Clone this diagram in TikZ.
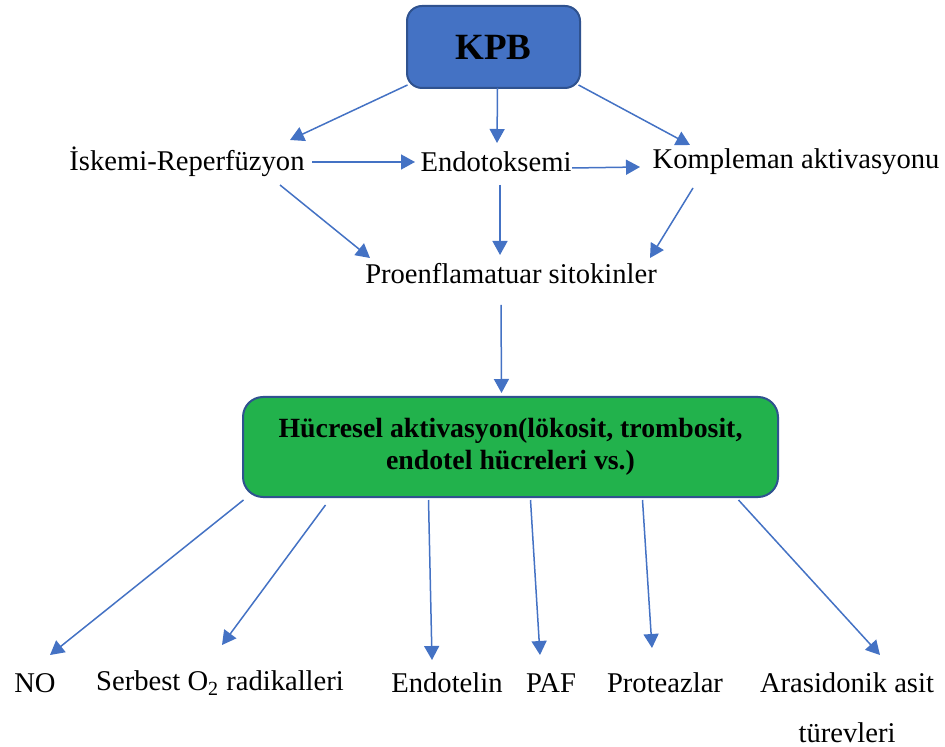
\documentclass[tikz,border=0pt]{standalone}
\usepackage{fontspec}
\setmainfont{Liberation Serif}
\usetikzlibrary{arrows.meta,calc}
\definecolor{kmavi}{HTML}{4472C4}
\definecolor{kcerceve}{HTML}{2F528F}
\definecolor{kyesil}{HTML}{22B24C}
\tikzset{
  kutum/.style={rectangle, rounded corners=7.5pt, draw=kcerceve, line width=1pt, fill=kmavi,
    minimum width=86.5pt, minimum height=41pt, font=\fontsize{18.5}{22}\selectfont\bfseries},
  kutuy/.style={rectangle, rounded corners=10pt, draw=kcerceve, line width=1pt, fill=kyesil,
    minimum width=267.5pt, minimum height=50pt, align=center, font=\fontsize{13.9}{15.8}\selectfont\bfseries},
  yazi/.style={inner sep=1pt, align=center, font=\fontsize{14.3}{25}\selectfont},
  ok/.style={-{Triangle[length=7pt,width=7.5pt]}, line width=0.75pt, draw=kmavi, fill=kmavi},
}
\begin{document}
\begin{tikzpicture}[x=0.5pt,y=-0.5pt]
  \useasboundingbox (0,0) rectangle (945,747);
  \node[kutum] (kpb) at (493.5,47) {KPB};
  \node[yazi] (isk) at (187,162) {İskemi-Reperfüzyon};
  \node[yazi] (endo) at (496,162) {Endotoksemi};
  \node[yazi] (komp) at (796,162) {Kompleman aktivasyonu};
  \node[yazi] (proenf) at (511,274) {Proenflamatuar sitokinler};
  \node[kutuy] (hucre) at (510.5,447) {Hücresel aktivasyon(lökosit, trombosit,\\endotel hücreleri vs.)};
  \node[yazi] (no) at (35,683) {NO};
  \node[yazi] (serbest) at (220,683) {Serbest O\textsubscript{2} radikalleri};
  \node[yazi] (endotelin) at (447,683) {Endotelin};
  \node[yazi] (paf) at (551,683) {PAF};
  \node[yazi] (proteaz) at (665,683) {Proteazlar};
  \node[yazi] (arasi) at (847,708) {Arasidonik asit\\türevleri};
  % KPB'den cikanlar
  \draw[ok] ($(kpb)+(-86,38)$) -- ($(isk)+(103,-22)$);
  \draw[ok] ($(kpb)+(4,41)$) -- ($(endo)+(1,-19)$);
  \draw[ok] ($(kpb)+(85,38)$) -- ($(komp)+(-106,-17)$);
  \draw[ok] ($(isk)+(125,0)$) -- ($(endo)+(-81,0)$);
  \draw[ok] ($(endo)+(76,6)$) -- ($(komp)+(-156,5)$);
  % sitokinlere
  \draw[ok] ($(isk)+(93,23)$) -- ($(proenf)+(-141,-16)$);
  \draw[ok] ($(endo)+(4,23)$) -- ($(proenf)+(-11,-19)$);
  \draw[ok] ($(komp)+(-103,26)$) -- ($(proenf)+(139,-16)$);
  \draw[ok] ($(proenf)+(-10,31)$) -- ($(hucre)+(-9,-54)$);
  % hucresel aktivasyon sonuclari
  \draw[ok] ($(hucre)+(-267,53)$) -- ($(no)+(15,-28)$);
  \draw[ok] ($(hucre)+(-185,58)$) -- ($(serbest)+(2,-38)$);
  \draw[ok] ($(hucre)+(-82,53)$) -- ($(endotelin)+(-15,-23)$);
  \draw[ok] ($(hucre)+(20,53)$) -- ($(paf)+(-11,-28)$);
  \draw[ok] ($(hucre)+(132,53)$) -- ($(proteaz)+(-13,-35)$);
  \draw[ok] ($(hucre)+(228,53)$) -- ($(arasi)+(33,-53)$);
\end{tikzpicture}
\end{document}
